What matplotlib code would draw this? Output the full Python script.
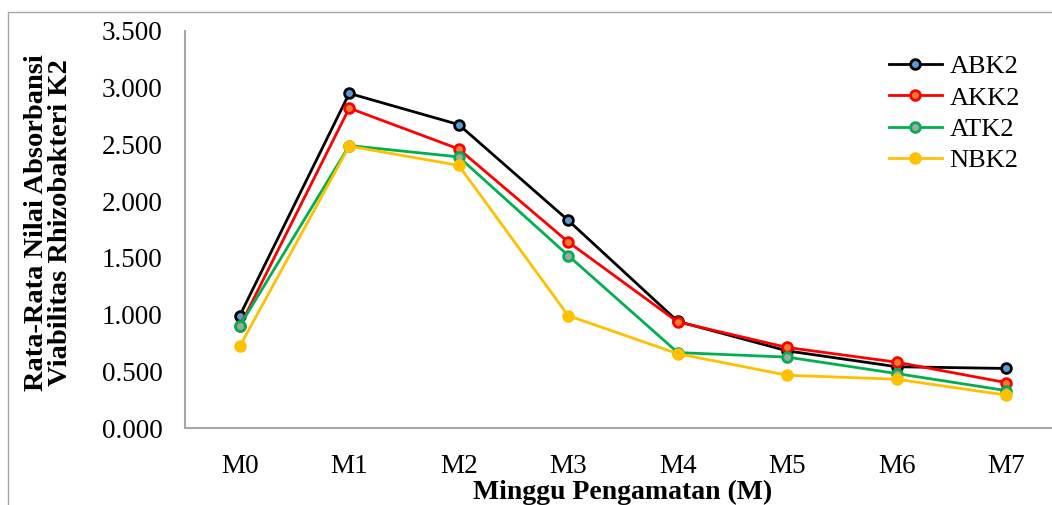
import matplotlib
matplotlib.use("Agg")
import matplotlib.pyplot as plt
from matplotlib.patches import Rectangle
from matplotlib.ticker import FuncFormatter

categories = ["M0", "M1", "M2", "M3", "M4", "M5", "M6", "M7"]
abk2 = [0.99, 2.95, 2.675, 1.83, 0.94, 0.68, 0.54, 0.525]
akk2 = [0.895, 2.82, 2.46, 1.64, 0.935, 0.71, 0.58, 0.40]
atk2 = [0.90, 2.49, 2.39, 1.52, 0.665, 0.625, 0.48, 0.33]
nbk2 = [0.72, 2.485, 2.315, 0.99, 0.655, 0.465, 0.43, 0.29]
series_names = ["ABK2", "AKK2", "ATK2", "NBK2"]
yticks = [0.0, 0.5, 1.0, 1.5, 2.0, 2.5, 3.0, 3.5]

plt.rcParams['font.family'] = ['Liberation Serif', 'DejaVu Serif']

fig = plt.figure(figsize=(10.52, 5.05), dpi=100)
fig.patch.set_facecolor("white")
fig.add_artist(Rectangle((8/1052, -0.1), 1.2, 1 - 12/505 + 0.1,
                         transform=fig.transFigure, fill=False,
                         edgecolor="#A6A6A6", linewidth=1.0))

ax = fig.add_axes([185/1052, 1 - 428/505, (1061 - 185)/1052, (428 - 31)/505])
x = list(range(len(categories)))

styles = [
    (abk2, "#000000", "#5B9BD5"),
    (akk2, "#FF0000", "#ED7D31"),
    (atk2, "#00B050", "#A5A5A5"),
    (nbk2, "#FFC000", "#FFC000"),
]
for (vals, col, face), name in zip(styles, series_names):
    ax.plot(x, vals, color=col, linewidth=2.0, marker="o", markersize=7,
            markerfacecolor=face, markeredgecolor=col, markeredgewidth=2.0,
            label=name, solid_joinstyle="round")

ax.set_xlim(-0.5, 7.5)
ax.set_ylim(0, 3.5)
ax.set_yticks(yticks)
ax.yaxis.set_major_formatter(FuncFormatter(lambda v, p: f"{v:.3f}"))
ax.set_xticks(x)
ax.set_xticklabels(categories)
ax.tick_params(axis="both", length=0, labelsize=19.5, colors="black")
ax.tick_params(axis="y", pad=16)
ax.tick_params(axis="x", pad=19)
for s in ["top", "right"]:
    ax.spines[s].set_visible(False)
for s in ["left", "bottom"]:
    ax.spines[s].set_color("#A6A6A6")
    ax.spines[s].set_linewidth(1.5)

ax.set_xlabel("Minggu Pengamatan (M)", fontsize=20, fontweight="bold", labelpad=0)
ax.set_ylabel("Rata-Rata Nilai Absorbansi\nViabilitas Rhizobakteri K2",
              fontsize=20.5, fontweight="bold", linespacing=0.95)
ax.yaxis.set_label_coords((73 - 185)/876, (428 - 223)/397)

leg = ax.legend(loc="upper left", bbox_to_anchor=((865 - 185)/876, 1.0),
                frameon=False, fontsize=19, handlelength=2.0,
                handletextpad=0.3, labelspacing=0.3, borderaxespad=0.5)

fig.savefig("out.png", dpi=100, facecolor="white")
